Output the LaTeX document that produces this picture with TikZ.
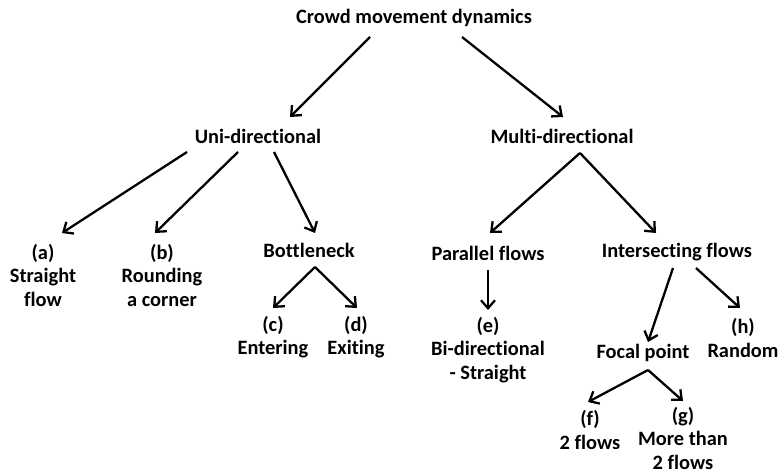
\documentclass[tikz,border=0pt]{standalone}
\usepackage{fontspec}
\setmainfont{Carlito}[Ligatures=NoCommon]
\usetikzlibrary{arrows.meta}
\tikzset{
  lbl/.style={font=\bfseries\fontsize{20.4}{23.5}\selectfont, align=center, inner sep=0pt},
  arr/.style={line width=2.3pt, -{Straight Barb[length=8pt,width=14pt,line width=2.3pt]}}
}
\begin{document}
\begin{tikzpicture}[x=1pt,y=-1pt]
\useasboundingbox (0,0) rectangle (779,474);
\node[lbl] (root) at (414,18) {Crowd movement dynamics};
\node[lbl] (uni) at (258,136) {Uni-directional};
\node[lbl] (multi) at (562,136) {Multi-directional};
\node[lbl] (a) at (43,275) {(a)\\Straight\\flow};
\node[lbl] (b) at (162,275) {(b)\\Rounding\\a corner};
\node[lbl] (bott) at (309,250) {Bottleneck};
\node[lbl] (c) at (273,337) {(c)\\Entering};
\node[lbl] (d) at (356,337) {(d)\\Exiting};
\node[lbl] (par) at (488,253) {Parallel flows};
\node[lbl] (e) at (488,350) {(e)\\Bi-directional\\- Straight};
\node[lbl] (inter) at (677,252) {Intersecting flows};
\node[lbl] (h) at (743,338) {(h)\\Random};
\node[lbl] (focal) at (643,353) {Focal point};
\node[lbl] (f) at (590,430) {(f)\\2 flows};
\node[lbl] (g) at (683,438) {(g)\\More than\\2 flows};
% connectors
\draw[arr] ([shift={(-44,19)}]root.center) -- ([shift={(32,-19)}]uni.center);
\draw[arr] ([shift={(48,19)}]root.center) -- ([shift={(1,-19)}]multi.center);
\draw[arr] ([shift={(-71,16)}]uni.center) -- ([shift={(19,-42)}]a.center);
\draw[arr] ([shift={(-20,16)}]uni.center) -- ([shift={(-7,-42)}]b.center);
\draw[arr] ([shift={(16,16)}]uni.center) -- ([shift={(6,-17)}]bott.center);
\draw[arr] ([shift={(18,17)}]multi.center) -- ([shift={(2,-20)}]par.center);
\draw[arr] ([shift={(18,17)}]multi.center) -- ([shift={(-21,-19)}]inter.center);
\draw[arr] ([shift={(6,17)}]bott.center) -- ([shift={(0,-29)}]c.center);
\draw[arr] ([shift={(6,17)}]bott.center) -- ([shift={(1,-29)}]d.center);
\draw[arr] ([shift={(0,17)}]par.center) -- ([shift={(0,-40)}]e.center);
\draw[arr] ([shift={(-4,16)}]inter.center) -- ([shift={(5,-11)}]focal.center);
\draw[arr] ([shift={(19,16)}]inter.center) -- ([shift={(-3,-30)}]h.center);
\draw[arr] ([shift={(5,17)}]focal.center) -- ([shift={(-2,-28)}]f.center);
\draw[arr] ([shift={(5,17)}]focal.center) -- ([shift={(0,-37)}]g.center);
\end{tikzpicture}
\end{document}
